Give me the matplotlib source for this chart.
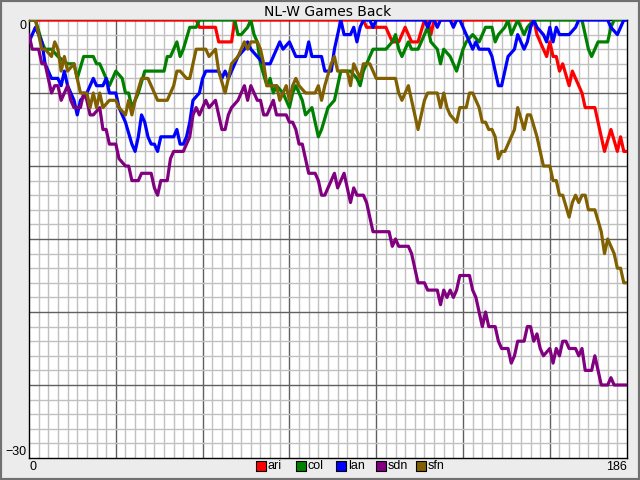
import matplotlib
matplotlib.use('Agg')
import matplotlib.pyplot as plt
from matplotlib import font_manager
from matplotlib.patches import Rectangle

# games back per team, (game number, games back) at each turning point
ari = [(0, 0), (52, 0), (53, -0.5), (58, -0.5), (59, -1.5), (63, -1.5), (64, 0), (104, 0),
       (105, -0.5), (111, -0.5), (113, -1.5), (115, -1.5), (117, -0.5), (119, -1.5), (121, -1.5),
       (123, 0), (124, 0), (125, -1), (126, 0), (157, 0), (158, -1), (159, -1.5), (161, -2.5),
       (162, -1.5), (163, -2.5), (164, -2.5), (165, -3.5), (166, -3), (168, -4.5), (169, -3.5),
       (172, -5), (173, -6), (176, -6), (178, -8), (179, -9), (181, -7.5), (183, -9), (184, -8),
       (185, -9), (186, -9)]

col = [(0, 0), (2, 0), (4, -1.5), (5, -2), (7, -2), (9, -2.5), (12, -3), (14, -3), (15, -4),
       (17, -2.5), (20, -2.5), (21, -3), (22, -3), (24, -4), (25, -4.5), (27, -3.5), (29, -4),
       (30, -5), (31, -5), (32, -6), (34, -5), (36, -3.5), (42, -3.5), (43, -2.5), (44, -2.5),
       (46, -1.5), (47, -2.5), (48, -2), (50, -0.5), (52, -0.5), (53, 0), (64, 0), (65, -1),
       (66, -1), (68, -0.5), (69, 0), (70, -1), (71, -1.5), (72, -3), (74, -4.5), (75, -4),
       (76, -5), (77, -4.5), (79, -5), (81, -6), (82, -5), (83, -4.5), (85, -5.5), (86, -6.5),
       (88, -6), (89, -7), (90, -8), (91, -7.5), (93, -6), (95, -5.5), (96, -4.5), (97, -3.5),
       (100, -3.5), (102, -4), (103, -4.5), (104, -3.5), (105, -3), (107, -2), (111, -2),
       (113, -1.5), (114, -1), (115, -2), (116, -2.5), (118, -1.5), (119, -2), (121, -2),
       (123, -1), (124, -0.5), (125, -1.5), (127, -2), (128, -3), (129, -2), (131, -2.5),
       (133, -3.5), (135, -2), (136, -1.5), (138, -1), (140, -1.5), (142, -0.5), (144, -0.5),
       (145, -1.5), (146, -1), (148, -0.5), (149, 0), (150, -1), (152, 0), (154, -1), (155, -0.5),
       (157, 0), (172, 0), (174, -2), (175, -2.5), (176, -2), (177, -1.5), (180, -1.5),
       (181, -0.5), (182, 0), (186, 0)]

lan = [(0, -1.5), (1, -1), (2, -0.5), (3, -1), (4, -1.5), (5, -3), (7, -4), (9, -4), (10, -4.5),
       (11, -3.5), (12, -4.5), (14, -5.5), (15, -6.5), (16, -5.5), (18, -5), (19, -4.5), (20, -4),
       (21, -4.5), (23, -4.5), (24, -4), (25, -5), (27, -5), (28, -6), (29, -6.5), (30, -7),
       (32, -8.5), (33, -9), (34, -8), (35, -6.5), (36, -7), (37, -8), (38, -8.5), (39, -8.5),
       (40, -9), (41, -8), (45, -8), (46, -7.5), (47, -8.5), (48, -8.5), (49, -8), (50, -7),
       (51, -5.5), (53, -5), (54, -4), (55, -3.5), (59, -3.5), (60, -4), (61, -3.5), (62, -4),
       (63, -3.5), (65, -2.5), (67, -2), (68, -1.5), (69, -2), (71, -2.5), (73, -3), (75, -3),
       (76, -2.5), (78, -1.5), (79, -2), (81, -1.5), (83, -2.5), (86, -2.5), (87, -1.5),
       (88, -2.5), (91, -2.5), (92, -3.5), (94, -3.5), (95, -2), (96, -1), (97, 0), (98, -1),
       (100, -1), (101, -0.5), (102, -1.5), (103, -0.5), (104, 0), (106, 0), (107, -0.5),
       (108, 0), (123, 0), (124, -0.5), (125, 0), (126, 0), (127, -0.5), (128, 0), (131, 0),
       (132, -0.5), (133, 0), (134, 0), (135, -0.5), (136, -1), (138, -2), (139, -1.5),
       (140, -2), (143, -2), (144, -2.5), (145, -3.5), (146, -4.5), (147, -4.5), (148, -3.5),
       (149, -2.5), (151, -2), (152, -1), (153, -1.5), (154, -2), (155, -1.5), (156, -0.5),
       (157, 0), (158, -0.5), (160, -1), (161, -1.5), (162, -0.5), (163, -1.5), (164, -0.5),
       (165, -1), (168, -1), (170, -0.5), (171, 0), (180, 0), (181, -0.5), (183, -1),
       (184, -0.5), (185, 0), (186, 0)]

sdn = [(0, -1), (1, -2), (3, -2), (4, -3), (5, -3), (6, -4), (7, -5), (8, -4.5), (9, -4.5),
       (10, -5.5), (12, -4.5), (13, -5.5), (14, -6), (16, -6), (17, -5), (18, -5.5), (19, -6.5),
       (20, -6.5), (22, -6), (23, -7.5), (24, -7.5), (25, -8.5), (27, -8.5), (28, -9.5),
       (30, -10), (31, -10), (32, -11), (34, -11), (35, -10.5), (38, -10.5), (39, -11.5),
       (40, -12), (41, -11), (43, -11), (44, -9.5), (45, -9), (48, -9), (49, -8.5), (50, -8),
       (51, -6.5), (52, -6), (53, -6.5), (55, -5.5), (56, -6), (58, -5.5), (60, -7.5), (61, -7.5),
       (62, -6.5), (63, -6), (65, -5.5), (66, -5), (67, -4.5), (68, -5.5), (69, -4.5), (70, -5),
       (71, -5.5), (72, -5.5), (73, -6.5), (74, -6.5), (76, -5.5), (77, -6.5), (80, -6.5),
       (81, -7), (82, -7), (83, -7.5), (84, -8.5), (85, -8.5), (86, -9.5), (87, -10.5),
       (89, -10.5), (90, -11), (91, -12), (92, -12), (94, -11), (95, -10.5), (96, -11.5),
       (97, -11), (98, -10.5), (99, -11.5), (100, -12.5), (101, -11.5), (102, -12), (104, -12),
       (105, -12.5), (106, -13.5), (107, -14.5), (112, -14.5), (113, -15.5), (114, -15),
       (115, -15.5), (118, -15.5), (119, -16), (120, -17), (121, -18), (123, -18), (124, -18.5),
       (127, -18.5), (128, -19.5), (129, -18.5), (130, -19), (131, -18.5), (132, -19),
       (133, -18.5), (134, -17.5), (137, -17.5), (138, -18.5), (139, -19), (141, -21),
       (142, -20), (143, -21), (145, -21), (146, -22), (147, -22.5), (149, -22.5), (150, -23.5),
       (151, -23), (152, -22), (154, -22), (155, -21), (156, -21), (157, -22), (158, -21.5),
       (159, -22.5), (160, -23), (162, -22.5), (163, -23.5), (164, -22.5), (165, -23),
       (166, -22), (167, -22), (168, -22.5), (170, -22.5), (171, -23), (172, -22.5), (173, -24),
       (175, -24), (176, -23), (178, -25), (180, -25), (181, -24.5), (182, -25), (186, -25)]

sfn = [(0, 0), (2, 0), (3, -1), (4, -2), (5, -2), (7, -2.5), (8, -1.5), (9, -2), (10, -3.5),
       (11, -2.5), (12, -3.5), (14, -3), (15, -4), (16, -5), (18, -5), (19, -6), (20, -5),
       (21, -6), (22, -5), (23, -6), (25, -5.5), (27, -5.5), (28, -6), (30, -6.5), (31, -5.5),
       (32, -6.5), (33, -5.5), (35, -4), (37, -4), (38, -4.5), (39, -5), (40, -5.5), (43, -5.5),
       (45, -4.5), (46, -3.5), (47, -3.5), (49, -4), (50, -4), (51, -3), (52, -2), (55, -2),
       (56, -2.5), (58, -2), (59, -3.5), (61, -5), (62, -4), (63, -3), (65, -2.5), (66, -2),
       (67, -1.5), (68, -2), (69, -1.5), (71, -1.5), (72, -2), (73, -3), (74, -4.5), (76, -4.5),
       (77, -4.5), (78, -5.5), (79, -5), (80, -4.5), (81, -5.5), (82, -4.5), (83, -4),
       (84, -4.5), (86, -5), (89, -5), (90, -4.5), (91, -5.5), (92, -4.5), (94, -3), (95, -2.5),
       (96, -3.5), (99, -3.5), (100, -4.5), (101, -3), (102, -3.5), (103, -4), (104, -3),
       (106, -3), (107, -3.5), (108, -4), (114, -4), (115, -5), (116, -5.5), (118, -4.5),
       (119, -5.5), (120, -6.5), (121, -7.5), (122, -6.5), (123, -5.5), (124, -5), (127, -5),
       (128, -6), (129, -5), (130, -6), (131, -6.5), (133, -7), (134, -6), (136, -6), (137, -5),
       (138, -5), (140, -6), (141, -7), (142, -7), (143, -7.5), (144, -7.5), (145, -8),
       (146, -9.5), (147, -9), (148, -9), (150, -8), (151, -7.5), (152, -6), (154, -7.5),
       (155, -6.5), (156, -6.5), (158, -8), (159, -9), (160, -10), (162, -10), (163, -11),
       (164, -11), (165, -12), (166, -12), (168, -13.5), (169, -12.5), (170, -12),
       (171, -12.5), (172, -12), (173, -12), (174, -13), (176, -13), (178, -14.5), (179, -16),
       (180, -15), (181, -15.5), (182, -16), (183, -17), (184, -17), (185, -18), (186, -18)]

teams = ['ari', 'col', 'lan', 'sdn', 'sfn']
colors = ['#ff0000', '#008000', '#0000ff', '#800080', '#806000']
series = [ari, col, lan, sdn, sfn]

installed = {f.name for f in font_manager.fontManager.ttflist}
small_font = 'Liberation Sans Narrow' if 'Liberation Sans Narrow' in installed else 'Liberation Sans'

W, H = 640, 480
fig = plt.figure(figsize=(6.4, 4.8), dpi=100, facecolor='#ececec')
ax = fig.add_axes([29 / W, 22 / H, 598 / W, 438 / H])
ax.set_facecolor('white')

ax.set_xlim(0, 186)
ax.set_ylim(-30, 0)

# grid: light every 3 games / 1 game back, dark every 27 / 5
for g in range(3, 186, 3):
    ax.axvline(g, color='#606060' if g % 27 == 0 else '#c0c0c0', lw=1, zorder=1)
for v in range(-29, 0):
    ax.axhline(v, color='#606060' if v % 5 == 0 else '#c0c0c0', lw=1, zorder=1)

for name, c, pts in zip(teams, colors, series):
    xs = [p[0] for p in pts]
    ys = [p[1] for p in pts]
    ax.plot(xs, ys, color=c, lw=2.3, solid_joinstyle='round', solid_capstyle='round', zorder=3)

for s in ax.spines.values():
    s.set_color('black')
    s.set_linewidth(1.0)

ax.set_xticks([0, 186])
ax.set_xticklabels(['0', '186'], family=small_font)
ax.set_yticks([0, -30])
ax.set_yticklabels(['0', '\u221230'], family=small_font)
ax.tick_params(length=0, labelsize=9, pad=2)
xl = ax.get_xticklabels()
xl[0].set_ha('left')
xl[1].set_ha('right')
yl = ax.get_yticklabels()
yl[0].set_va('top')
yl[1].set_va('bottom')

# title sits over the middle of the plot area
fig.text(328 / W, 1 - 12 / H, 'NL-W Games Back', ha='center', va='center',
         fontsize=10, family='DejaVu Sans')

# legend row under the plot
for i, (name, c) in enumerate(zip(teams, colors)):
    x0 = 256 + 40 * i
    fig.patches.append(Rectangle((x0 / W, 1 - 471 / H), 10 / W, 10 / H,
                                 transform=fig.transFigure, facecolor=c,
                                 edgecolor='black', lw=0.8))
    fig.text((x0 + 12) / W, 1 - 466 / H, name, ha='left', va='center',
             fontsize=9, family=small_font)

fig.patches.append(Rectangle((0, 0), 1, 1, transform=fig.transFigure, fill=False,
                             edgecolor='#707070', lw=3))

plt.savefig('out.png', dpi=100, facecolor=fig.get_facecolor())
